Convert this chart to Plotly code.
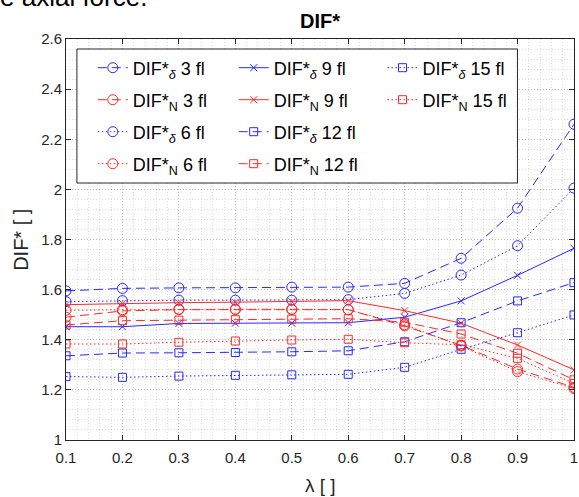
import plotly.graph_objects as go

# ---------------- data ----------------
lam = [0.1, 0.2, 0.3, 0.4, 0.5, 0.6, 0.7, 0.8, 0.9, 1.0]

d3 = [1.595, 1.605, 1.607, 1.607, 1.610, 1.610, 1.625, 1.725, 1.925, 2.260]
N3 = [1.490, 1.515, 1.520, 1.520, 1.520, 1.520, 1.455, 1.378, 1.283, 1.210]
d6 = [1.552, 1.556, 1.558, 1.558, 1.558, 1.560, 1.585, 1.658, 1.775, 2.005]
N6 = [1.518, 1.520, 1.522, 1.522, 1.522, 1.520, 1.460, 1.375, 1.273, 1.205]
d9 = [1.452, 1.452, 1.465, 1.466, 1.466, 1.468, 1.490, 1.555, 1.657, 1.765]
N9 = [1.540, 1.545, 1.548, 1.550, 1.552, 1.556, 1.516, 1.466, 1.379, 1.280]
d12 = [1.336, 1.347, 1.348, 1.349, 1.352, 1.356, 1.392, 1.468, 1.555, 1.628]
N12 = [1.459, 1.476, 1.478, 1.480, 1.482, 1.484, 1.470, 1.423, 1.346, 1.240]
d15 = [1.253, 1.250, 1.255, 1.258, 1.260, 1.262, 1.290, 1.362, 1.428, 1.499]
N15 = [1.383, 1.383, 1.390, 1.395, 1.399, 1.402, 1.388, 1.380, 1.326, 1.226]

x_ticks = [0.1, 0.2, 0.3, 0.4, 0.5, 0.6, 0.7, 0.8, 0.9, 1.0]
x_ticklabels = ["0.1", "0.2", "0.3", "0.4", "0.5", "0.6", "0.7", "0.8", "0.9", "1"]
y_ticks = [1.0, 1.2, 1.4, 1.6, 1.8, 2.0, 2.2, 2.4, 2.6]
y_ticklabels = ["1", "1.2", "1.4", "1.6", "1.8", "2", "2.2", "2.4", "2.6"]

# ---------------- styling ----------------
BLUE = "rgb(40,40,255)"
RED = "rgb(255,40,40)"
FONT = "Liberation Sans, Arial, sans-serif"
AX = "#262626"
DASH = "9px,5px"
DOT = "1.5px,2.5px"

W, H = 579, 497
L, R, T, B = 66, 1, 39, 57
PW, PH = W - L - R, H - T - B


def px_x(px):
    return (px - L) / PW


def px_y(py):
    return (H - B - py) / PH


series = [
    # (name, data, color, dash, symbol, size, col, row)
    ("DIF*<sub><i>δ</i></sub> 3 fl", d3, BLUE, DASH, "circle-open", 10, 0, 0),
    ("DIF*<sub>N</sub> 3 fl", N3, RED, DASH, "circle-open", 10, 0, 1),
    ("DIF*<sub><i>δ</i></sub> 6 fl", d6, BLUE, DOT, "circle-open", 10, 0, 2),
    ("DIF*<sub>N</sub> 6 fl", N6, RED, DOT, "circle-open", 10, 0, 3),
    ("DIF*<sub><i>δ</i></sub> 9 fl", d9, BLUE, "solid", "x-thin-open", 7, 1, 0),
    ("DIF*<sub>N</sub> 9 fl", N9, RED, "solid", "x-thin-open", 7, 1, 1),
    ("DIF*<sub><i>δ</i></sub> 12 fl", d12, BLUE, DASH, "square-open", 8, 1, 2),
    ("DIF*<sub>N</sub> 12 fl", N12, RED, DASH, "square-open", 8, 1, 3),
    ("DIF*<sub><i>δ</i></sub> 15 fl", d15, BLUE, DOT, "square-open", 8, 2, 0),
    ("DIF*<sub>N</sub> 15 fl", N15, RED, DOT, "square-open", 8, 2, 1),
]

col_text_px = [133, 275, 425]
row_y_px = [68, 100, 132, 164]

fig = go.Figure()
layout_legends = {}
for i, (name, data, color, dash, symbol, size, col, row) in enumerate(series):
    lname = "legend" if i == 0 else f"legend{i + 1}"
    fig.add_trace(go.Scatter(
        x=lam, y=data, name=name, mode="lines+markers",
        line=dict(color=color, width=1, dash=dash),
        marker=dict(symbol=symbol, size=size, color=color,
                    line=dict(color=color, width=1)),
        legend=lname, showlegend=True,
    ))
    layout_legends[lname] = dict(
        x=px_x(col_text_px[col] - 40), y=px_y(row_y_px[row]),
        xanchor="left", yanchor="middle",
        bgcolor="rgba(0,0,0,0)", borderwidth=0,
        font=dict(family=FONT, size=18, color="black"),
        itemclick=False, itemdoubleclick=False,
    )

fig.update_layout(**layout_legends)

# legend box
fig.add_shape(type="rect", xref="paper", yref="paper",
              x0=px_x(77), x1=px_x(521), y0=px_y(183), y1=px_y(49),
              fillcolor="white", line=dict(color=AX, width=1), layer="above")

grid_major = "rgba(0,0,0,0.16)"
grid_minor = "rgba(0,0,0,0.13)"

fig.update_xaxes(
    range=[0.1, 1.00001], tickvals=x_ticks, ticktext=x_ticklabels,
    showline=True, linecolor=AX, linewidth=1, mirror="ticks",
    ticks="inside", ticklen=5, tickcolor=AX, tickwidth=1,
    ticklabelstandoff=4, ticklabeloverflow="allow",
    showgrid=True, gridcolor=grid_major, gridwidth=1, griddash="1px,2px",
    minor=dict(dtick=0.02, tick0=0.1, showgrid=True, gridcolor=grid_minor,
               griddash="1px,2px", gridwidth=1, ticks=""),
    tickfont=dict(family=FONT, size=15, color=AX),
    zeroline=False,
)
fig.update_yaxes(
    range=[1.0, 2.6], tickvals=y_ticks, ticktext=y_ticklabels,
    showline=True, linecolor=AX, linewidth=1, mirror="ticks",
    ticks="inside", ticklen=5, tickcolor=AX, tickwidth=1,
    showgrid=True, gridcolor=grid_major, gridwidth=1, griddash="1px,2px",
    minor=dict(dtick=0.04, tick0=1.0, showgrid=True, gridcolor=grid_minor,
               griddash="1px,2px", gridwidth=1, ticks=""),
    tickfont=dict(family=FONT, size=15, color=AX),
    zeroline=False,
)

fig.update_layout(
    width=W, height=H,
    margin=dict(l=L, r=R, t=T, b=B, pad=0),
    paper_bgcolor="white", plot_bgcolor="white",
    font=dict(family=FONT, color=AX),
    title=dict(text="<b>DIF*</b>", x=px_x(322), xref="paper",
               y=1 - 21 / H, yref="container", xanchor="center", yanchor="middle",
               font=dict(family=FONT, size=20, color="black")),
    annotations=[
        dict(text="λ [ ]", xref="paper", yref="paper", x=0.5, y=px_y(485),
             xanchor="center", yanchor="middle", showarrow=False,
             font=dict(family=FONT, size=19, color=AX)),
        dict(text="DIF* [ ]", xref="paper", yref="paper", x=px_x(20), y=0.5,
             xanchor="center", yanchor="middle", showarrow=False, textangle=-90,
             font=dict(family=FONT, size=20, color=AX)),
        dict(text="e axial force.", xref="paper", yref="paper", x=px_x(-3), y=px_y(14),
             xanchor="left", yanchor="bottom", showarrow=False,
             font=dict(family=FONT, size=26, color="black")),
    ],
)

fig.write_html("out.html")
